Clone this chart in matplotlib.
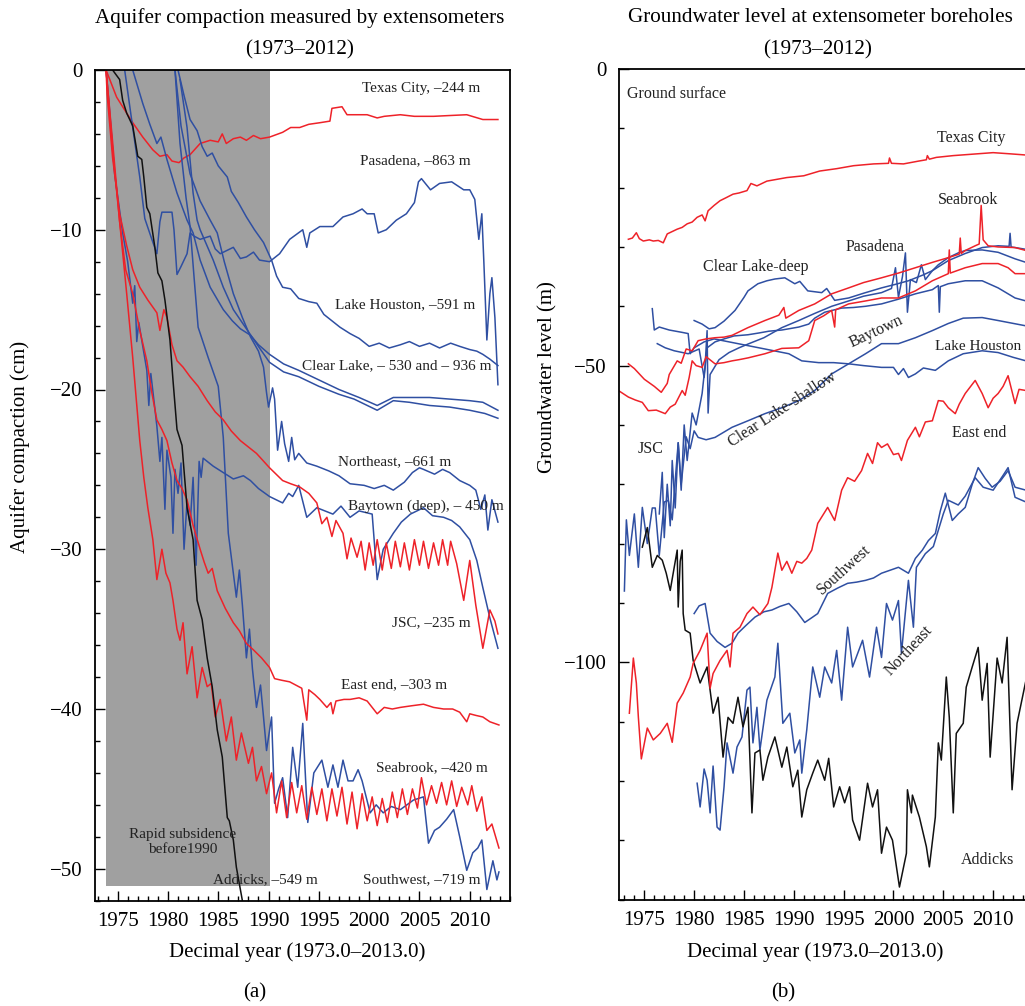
import matplotlib
matplotlib.use("Agg")
import matplotlib.pyplot as plt
from matplotlib.ticker import MultipleLocator

plt.rcParams['font.family'] = ['Liberation Serif', 'DejaVu Serif']
plt.rcParams['axes.unicode_minus'] = True

RED = '#ee2229'
BLUE = '#2f4fa2'
BLACK = '#111111'
SHADE = '#a0a0a0'

# ---------------- (a) aquifer compaction (year, cm) ----------------
texas_city_a = [(1973.85, 0), (1974.9, -1.7), (1975.9, -2.7), (1976.5, -3.3), (1977.5, -4.2), (1978.5, -5.0),
                (1979.2, -5.4), (1979.9, -5.3), (1980.4, -5.7), (1981.1, -5.8), (1981.6, -5.5), (1982.2, -5.3),
                (1983.2, -4.6), (1984.2, -4.4), (1985.0, -4.5), (1985.4, -4.0), (1985.8, -4.6), (1986.5, -4.3),
                (1987.2, -4.2), (1987.8, -4.4), (1988.5, -4.1), (1989.2, -4.3), (1990.1, -4.2), (1991.4, -3.9),
                (1992.2, -3.6), (1993.1, -3.6), (1994.0, -3.4), (1995.1, -3.3), (1996.1, -3.2), (1996.3, -2.4),
                (1997.3, -2.3), (1997.8, -2.8), (1999.8, -2.8), (2000.8, -3.0), (2001.5, -2.9), (2003.1, -2.8),
                (2004.5, -2.9), (2006.4, -2.9), (2008.0, -2.85), (2009.7, -2.8), (2010.5, -2.95), (2011.3, -3.1),
                (2012.8, -3.1)]
pasadena_a = [(1975.7, 0), (1976.5, -3.6), (1977.2, -6.7), (1977.7, -9.3), (1978.4, -10.6), (1978.9, -11.5),
              (1979.2, -9.5), (1979.4, -8.9), (1980.4, -8.9), (1980.6, -10.0), (1980.9, -12.8), (1981.3, -12.3),
              (1981.9, -11.5), (1982.2, -10.2), (1982.6, -10.4), (1983.2, -10.6), (1984.2, -10.4), (1984.7, -11.2),
              (1985.2, -11.5), (1986.5, -11.1), (1987.2, -11.8), (1987.8, -11.7), (1988.5, -11.4), (1989.1, -11.9),
              (1990.1, -12.0), (1991.1, -11.5), (1992.1, -10.6), (1993.4, -10.0), (1993.8, -11.1), (1994.1, -10.2),
              (1995.1, -9.8), (1996.4, -9.8), (1997.4, -9.2), (1998.4, -9.0), (1999.3, -8.7), (1999.8, -9.0),
              (2000.5, -9.0), (2000.9, -10.2), (2001.7, -10.0), (2002.7, -9.4), (2003.7, -9.0), (2004.5, -8.3),
              (2004.9, -7.0), (2005.2, -6.8), (2006.1, -7.5), (2007.0, -7.1), (2008.2, -7.0), (2009.4, -7.5),
              (2010.0, -7.5), (2010.5, -8.1), (2010.9, -10.6), (2011.2, -9.0), (2011.4, -12.0), (2011.7, -16.9),
              (2012.0, -14.0), (2012.2, -13.0), (2012.5, -15.5), (2012.8, -19.7)]
lake_houston_a = [(1981.0, 0), (1981.6, -1.6), (1982.2, -3.1), (1982.9, -3.8), (1983.4, -4.8), (1983.9, -5.4),
                  (1984.4, -5.2), (1985.0, -6.0), (1985.9, -6.7), (1986.3, -7.6), (1987.0, -8.3), (1987.8, -9.2),
                  (1988.6, -10.0), (1989.5, -10.8), (1990.3, -11.9), (1990.8, -12.9), (1991.4, -13.6), (1992.2, -13.7),
                  (1993.0, -14.3), (1994.0, -14.5), (1994.8, -14.6), (1995.5, -15.3), (1996.3, -15.7), (1997.1, -16.1),
                  (1998.1, -16.5), (1999.0, -16.8), (2000.0, -17.3), (2001.0, -17.1), (2002.0, -17.4), (2003.1, -17.2),
                  (2004.0, -17.0), (2005.0, -17.3), (2006.0, -17.1), (2007.0, -17.4), (2008.1, -17.1), (2009.0, -17.3),
                  (2010.0, -17.5), (2010.7, -17.6), (2011.3, -17.8), (2012.0, -18.1), (2012.8, -18.5)]
clear_lake_deep_a = [(1976.5, 0), (1977.5, -2.1), (1978.2, -3.4), (1978.9, -4.6), (1979.3, -4.2), (1979.9, -5.6),
                     (1980.9, -7.7), (1981.9, -9.4), (1982.5, -10.2), (1983.2, -11.9), (1984.2, -13.6),
                     (1985.5, -15.0), (1986.4, -15.7), (1987.2, -16.2), (1988.2, -16.6), (1989.0, -17.2),
                     (1990.1, -17.8), (1991.5, -18.4), (1993.0, -18.8), (1995.0, -19.4), (1997.0, -20.0),
                     (1999.0, -20.5), (2000.8, -21.0), (2002.4, -20.5), (2004.0, -20.5), (2006.0, -20.5),
                     (2008.0, -20.6), (2010.0, -20.7), (2011.3, -20.8), (2012.8, -21.3)]
clear_lake_shallow_a = [(1981.2, -0.6), (1981.9, -3.6), (1982.5, -7.7), (1982.9, -9.4), (1983.2, -10.0),
                        (1984.5, -11.9), (1985.5, -13.6), (1986.5, -15.0), (1987.8, -16.2), (1989.1, -17.4),
                        (1990.1, -18.3), (1991.5, -18.9), (1993.0, -19.2), (1995.0, -19.8), (1997.0, -20.3),
                        (1998.5, -20.6), (2000.8, -21.3), (2002.4, -20.7), (2004.0, -20.8), (2006.0, -21.0),
                        (2008.0, -21.1), (2010.0, -21.3), (2011.5, -21.5), (2012.8, -21.8)]
northeast_a = [(1980.7, 0), (1981.3, -3.5), (1982.2, -6.5), (1983.2, -8.2), (1984.2, -9.4), (1984.9, -10.2),
               (1985.6, -12.0), (1986.5, -14.0), (1987.4, -15.5), (1988.2, -16.7), (1989.0, -17.6), (1989.5, -18.6),
               (1989.8, -20.2), (1990.0, -21.1), (1990.4, -19.9), (1990.6, -20.6), (1990.9, -23.8), (1991.3, -22.0),
               (1991.6, -23.4), (1992.0, -24.5), (1992.3, -23.0), (1992.6, -24.4), (1993.0, -24.0), (1993.8, -24.6),
               (1994.8, -24.8), (1996.0, -25.1), (1997.0, -25.4), (1998.1, -25.9), (1999.5, -26.0), (2000.5, -26.2),
               (2001.5, -26.0), (2002.4, -26.3), (2003.5, -25.8), (2004.3, -25.2), (2005.0, -24.9), (2005.4, -25.0),
               (2006.5, -25.3), (2007.3, -25.0), (2008.0, -25.2), (2009.0, -25.7), (2010.0, -26.0), (2010.6, -26.3),
               (2011.1, -27.5), (2011.5, -26.6), (2011.8, -28.8), (2012.2, -26.9), (2012.8, -28.3)]
southwest_a = [(1980.7, 0), (1981.2, -4.6), (1981.8, -8.0), (1982.2, -9.8), (1982.6, -13.0), (1983.0, -16.1),
               (1984.0, -18.0), (1985.0, -19.8), (1985.5, -23.0), (1986.0, -29.0), (1986.5, -31.5), (1986.8, -33.0),
               (1987.1, -31.3), (1987.4, -33.5), (1987.8, -36.8), (1988.1, -35.0), (1988.4, -37.5), (1988.8, -39.9),
               (1989.2, -38.5), (1989.5, -40.5), (1989.8, -42.6), (1990.3, -40.5), (1990.6, -45.9), (1991.0, -45.0),
               (1991.4, -44.3), (1991.9, -46.8), (1992.4, -42.4), (1992.9, -44.9), (1993.4, -40.9), (1993.9, -47.1),
               (1994.5, -44.0), (1995.3, -43.2), (1995.9, -44.9), (1996.4, -43.5), (1996.9, -44.9), (1997.4, -43.2),
               (1997.9, -44.5), (1998.4, -44.5), (1998.9, -43.8), (1999.3, -44.5), (2000.1, -46.5), (2000.7, -46.0),
               (2001.4, -46.5), (2002.2, -46.1), (2003.1, -46.3), (2004.4, -45.7), (2005.4, -45.5), (2005.9, -48.4),
               (2006.5, -47.6), (2007.0, -47.4), (2007.7, -46.9), (2008.4, -46.3), (2009.0, -48.0), (2009.7, -50.1),
               (2010.3, -49.0), (2010.8, -48.7), (2011.2, -48.2), (2011.7, -51.3), (2012.3, -49.5), (2012.7, -50.7),
               (2012.9, -50.2)]
baytown_a = [(1973.85, 0), (1974.2, -2.5), (1974.7, -6.5), (1975.5, -10.2), (1976.0, -12.0), (1976.5, -14.6),
             (1976.7, -13.5), (1976.9, -17.0), (1977.1, -15.8), (1977.9, -18.8), (1978.1, -21.0), (1978.3, -19.0),
             (1978.9, -22.3), (1979.2, -24.5), (1979.4, -23.0), (1979.7, -27.5), (1979.9, -23.8), (1980.3, -25.5),
             (1980.5, -29.0), (1980.7, -25.0), (1981.0, -26.5), (1981.3, -24.6), (1981.6, -30.0), (1981.9, -27.0),
             (1982.2, -28.5), (1982.5, -25.5), (1982.8, -31.0), (1983.1, -24.5), (1983.3, -25.5), (1983.5, -24.3),
             (1984.5, -24.8), (1985.5, -25.2), (1986.5, -25.6), (1987.5, -25.4), (1988.2, -25.7), (1989.0, -26.2),
             (1990.1, -26.7), (1991.4, -27.1), (1992.0, -26.5), (1992.4, -26.7), (1993.0, -26.0), (1993.8, -28.0),
             (1994.8, -27.4), (1995.6, -27.6), (1996.4, -27.8), (1997.2, -27.3), (1998.1, -28.0), (1999.0, -27.6),
             (2000.3, -27.8), (2000.8, -31.9), (2001.4, -30.0), (2002.4, -29.0), (2003.2, -28.3), (2004.1, -27.8),
             (2005.4, -27.4), (2006.3, -27.9), (2007.4, -28.0), (2008.2, -28.2), (2009.0, -28.6), (2010.0, -29.4),
             (2010.7, -30.7), (2011.3, -32.4), (2012.0, -34.3), (2012.8, -36.2)]
addicks_a = [(1974.5, 0), (1975.2, -0.6), (1975.5, -1.9), (1975.9, -2.7), (1976.5, -3.5), (1977.0, -5.4),
             (1977.4, -5.6), (1977.6, -6.7), (1977.9, -8.6), (1978.2, -9.0), (1978.7, -11.1), (1979.0, -12.7),
             (1979.4, -13.2), (1979.7, -14.4), (1980.2, -16.9), (1980.5, -19.4), (1980.9, -22.5), (1981.4, -23.5),
             (1981.9, -27.4), (1982.5, -29.4), (1982.9, -33.2), (1983.4, -34.4), (1983.9, -36.8), (1984.4, -38.6),
             (1984.9, -41.3), (1985.4, -43.0), (1985.9, -46.8), (1986.1, -47.0), (1986.5, -48.2), (1986.8, -49.9),
             (1987.4, -52.0), (1987.6, -53.0)]
jsc_a = [(1973.85, 0), (1973.95, -1.5), (1974.5, -5.5), (1975.2, -9.0), (1975.9, -11.0), (1976.5, -12.5),
         (1977.2, -13.6), (1978.0, -14.4), (1978.9, -15.2), (1979.2, -16.3), (1979.6, -15.0), (1979.9, -15.5),
         (1980.4, -17.2), (1980.9, -18.2), (1981.5, -18.6), (1982.2, -19.2), (1983.0, -19.8), (1983.9, -20.7),
         (1984.7, -21.4), (1985.5, -21.9), (1986.3, -22.6), (1987.2, -23.2), (1988.0, -23.6), (1988.8, -24.0),
         (1990.1, -24.9), (1991.4, -25.7), (1992.2, -25.9), (1993.1, -26.1), (1994.0, -26.5), (1994.8, -27.1),
         (1995.3, -28.4), (1995.8, -28.0), (1996.3, -29.2), (1996.7, -28.2), (1997.4, -29.0), (1997.8, -30.6),
         (1998.2, -29.3), (1998.8, -30.5), (1999.2, -29.5), (1999.6, -31.3), (2000.0, -29.6), (2000.4, -31.0),
         (2000.8, -29.4), (2001.3, -31.3), (2001.7, -29.6), (2002.2, -31.2), (2002.6, -29.5), (2003.1, -31.1),
         (2003.5, -29.6), (2004.0, -31.3), (2004.5, -29.4), (2005.0, -31.0), (2005.4, -29.5), (2005.9, -31.2),
         (2006.4, -29.6), (2006.9, -31.0), (2007.3, -29.4), (2007.8, -31.0), (2008.1, -29.5), (2008.7, -30.9),
         (2009.4, -33.2), (2010.0, -30.7), (2010.6, -33.5), (2011.3, -36.2), (2012.0, -33.8), (2012.5, -34.5),
         (2012.8, -35.3)]
east_end_a = [(1973.85, 0), (1974.5, -5.0), (1975.2, -9.5), (1975.8, -12.5), (1976.5, -14.0), (1977.2, -16.3),
              (1977.9, -18.2), (1978.4, -20.2), (1978.9, -21.9), (1979.4, -22.5), (1979.9, -23.2), (1980.4, -24.6),
              (1980.9, -25.7), (1981.4, -26.2), (1981.9, -26.9), (1982.5, -28.5), (1983.2, -30.0), (1983.6, -30.8),
              (1984.0, -31.5), (1984.4, -31.2), (1984.9, -32.6), (1985.7, -33.7), (1986.5, -34.6), (1987.1, -35.1),
              (1987.8, -35.9), (1988.5, -36.3), (1989.3, -36.8), (1990.1, -37.4), (1990.6, -38.1), (1991.3, -38.2),
              (1992.1, -38.3), (1993.3, -38.7), (1993.8, -40.7), (1994.0, -38.8), (1994.6, -39.1), (1995.1, -39.4),
              (1995.8, -39.9), (1996.2, -39.6), (1996.4, -40.3), (1996.7, -39.5), (1997.5, -39.4), (1998.1, -39.4),
              (1999.0, -39.3), (1999.8, -39.5), (2000.8, -40.3), (2001.5, -39.9), (2002.3, -40.0), (2003.1, -39.9),
              (2004.2, -39.8), (2005.4, -39.7), (2006.4, -39.9), (2007.4, -40.0), (2008.3, -40.0), (2009.0, -40.2),
              (2009.7, -40.8), (2010.0, -40.3), (2010.6, -40.4), (2011.3, -40.5), (2012.0, -40.8), (2012.9, -41.0)]
seabrook_a = [(1973.85, 0), (1974.5, -4.5), (1975.2, -9.5), (1975.9, -14.0), (1976.5, -18.0), (1977.2, -23.2),
              (1977.6, -25.5), (1978.0, -27.4), (1978.5, -29.4), (1978.9, -31.9), (1979.4, -30.0), (1979.8, -31.5),
              (1980.2, -32.1), (1980.5, -33.2), (1980.9, -35.0), (1981.2, -35.7), (1981.5, -34.6), (1981.9, -37.8),
              (1982.4, -36.1), (1982.9, -39.3), (1983.4, -37.4), (1983.9, -38.6), (1984.3, -38.4), (1984.7, -40.5),
              (1985.2, -39.4), (1985.8, -42.0), (1986.3, -40.5), (1986.8, -43.2), (1987.3, -41.5), (1988.0, -43.4),
              (1988.4, -42.4), (1988.8, -44.5), (1989.3, -43.6), (1989.8, -45.3), (1990.3, -44.0), (1990.8, -46.5),
              (1991.3, -44.5), (1991.8, -46.8), (1992.3, -44.6), (1992.8, -46.5), (1993.3, -44.8), (1993.8, -46.9),
              (1994.3, -44.9), (1994.8, -46.6), (1995.3, -45.0), (1995.8, -47.0), (1996.3, -45.0), (1996.8, -46.7),
              (1997.3, -44.9), (1997.8, -47.2), (1998.3, -45.2), (1998.8, -47.5), (1999.3, -45.3), (1999.8, -47.0),
              (2000.3, -45.5), (2000.8, -47.3), (2001.3, -45.6), (2001.8, -47.1), (2002.3, -45.2), (2002.8, -46.8),
              (2003.3, -45.0), (2003.8, -46.6), (2004.3, -45.0), (2004.8, -46.2), (2005.2, -44.3), (2005.7, -46.0),
              (2006.2, -44.8), (2006.7, -45.9), (2007.2, -44.6), (2007.7, -46.0), (2008.2, -44.5), (2008.7, -46.1),
              (2009.2, -44.9), (2009.8, -46.0), (2010.2, -44.8), (2010.7, -46.4), (2011.2, -45.5), (2011.7, -47.6),
              (2012.2, -47.2), (2012.9, -48.7)]

series_a = [(texas_city_a, RED), (pasadena_a, BLUE), (lake_houston_a, BLUE), (clear_lake_deep_a, BLUE),
            (clear_lake_shallow_a, BLUE), (northeast_a, BLUE), (southwest_a, BLUE), (baytown_a, BLUE),
            (jsc_a, RED), (east_end_a, RED), (seabrook_a, RED), (addicks_a, BLACK)]

labels_a = [("Texas City, \u2013244 m", 2005.15, -1.13), ("Pasadena, \u2013863 m", 2004.6, -5.7),
            ("Lake Houston, \u2013591 m", 2003.6, -14.7), ("Clear Lake, \u2013 530 and \u2013 936 m", 2002.7, -18.5),
            ("Northeast, \u2013661 m", 2002.5, -24.5), ("Baytown (deep), \u2013 450 m", 2005.6, -27.3),
            ("JSC, \u2013235 m", 2006.2, -34.6), ("East end, \u2013303 m", 2002.5, -38.5),
            ("Seabrook, \u2013420 m", 2006.2, -43.7), ("Southwest, \u2013719 m", 2005.2, -50.7),
            ("Addicks, \u2013549 m", 1989.7, -50.7), ("Rapid subsidence\nbefore1990", 1981.5, -48.3)]
rapid_years = [1973.85, 1990.1]
rapid_depth = -51.05

# ---------------- (b) groundwater level (year, m) ----------------
texas_city_b = [(1973.4, -28.7), (1973.8, -28.5), (1974.2, -27.6), (1974.5, -28.6), (1974.9, -29.0), (1975.5, -28.8),
                (1975.9, -29.0), (1976.4, -28.9), (1976.9, -29.3), (1977.3, -27.8), (1978.3, -27.0), (1978.8, -26.7),
                (1979.3, -26.1), (1979.8, -25.8), (1980.3, -25.0), (1980.8, -24.6), (1981.1, -25.6), (1981.4, -23.9),
                (1982.0, -23.0), (1982.6, -22.2), (1983.2, -21.7), (1983.9, -21.1), (1984.5, -20.9), (1985.3, -20.5),
                (1985.7, -19.3), (1986.3, -19.7), (1987.3, -18.9), (1988.3, -18.6), (1989.3, -18.3), (1991.0, -18.0),
                (1992.6, -17.2), (1994.3, -16.8), (1996.0, -16.3), (1998.0, -16.0), (1999.5, -15.9), (1999.6, -15.0),
                (1999.8, -15.9), (2001.0, -16.0), (2002.6, -15.5), (2003.3, -15.3), (2003.4, -14.6), (2003.6, -15.2),
                (2004.3, -14.9), (2006.0, -14.6), (2007.6, -14.4), (2010.0, -14.1), (2011.7, -14.3), (2013.3, -14.5)]
seabrook_b = [(1973.4, -49.7), (1974.0, -50.5), (1975.0, -52.3), (1976.0, -53.5), (1976.7, -54.5), (1977.3, -53.0),
              (1977.5, -51.5), (1978.3, -49.2), (1978.7, -49.6), (1979.2, -47.2), (1979.8, -47.5), (1980.4, -45.8),
              (1981.2, -45.5), (1982.1, -45.3), (1983.0, -45.2), (1983.8, -44.9), (1985.4, -43.6), (1987.1, -42.4),
              (1988.5, -41.5), (1989.0, -40.2), (1989.2, -42.0), (1990.5, -40.7), (1992.1, -39.6), (1993.8, -37.9),
              (1995.5, -36.9), (1997.0, -36.0), (1998.8, -35.2), (2000.5, -34.4), (2002.2, -33.5), (2003.9, -32.6),
              (2005.5, -31.8), (2006.6, -31.2), (2006.7, -28.5), (2006.8, -31.1), (2007.2, -30.6), (2008.2, -29.8),
              (2008.6, -29.5), (2008.8, -23.0), (2009.0, -28.8), (2009.5, -29.8), (2010.5, -30.0), (2012.2, -30.1),
              (2013.3, -30.6)]
jsc_b = [(1972.4, -54.2), (1973.4, -55.3), (1974.1, -55.8), (1974.8, -56.2), (1975.4, -57.6), (1976.2, -57.5),
         (1977.1, -58.1), (1977.6, -57.0), (1978.1, -56.5), (1978.8, -54.2), (1979.1, -55.0), (1979.5, -52.0),
         (1979.8, -49.2), (1980.2, -50.0), (1980.8, -50.3), (1981.2, -48.5), (1982.1, -49.7), (1983.0, -49.5),
         (1983.8, -49.2), (1984.5, -49.0), (1985.4, -48.7), (1987.1, -48.0), (1988.8, -47.1), (1990.5, -47.0),
         (1991.5, -45.8), (1992.1, -42.4), (1993.0, -41.6), (1993.8, -40.7), (1994.1, -43.5), (1994.2, -40.6),
         (1995.5, -39.6), (1997.2, -39.1), (1998.8, -38.6), (2000.5, -38.6), (2002.2, -37.4), (2003.9, -35.7),
         (2005.5, -34.5), (2005.6, -30.5), (2005.7, -34.4), (2007.2, -33.5), (2008.9, -32.8), (2010.5, -32.8),
         (2011.5, -33.5), (2012.2, -34.5), (2013.3, -34.5)]
east_end_b = [(1973.5, -108.6), (1973.9, -99.3), (1974.2, -103.5), (1974.4, -109.2), (1974.7, -116.3),
              (1975.3, -111.1), (1975.9, -113.1), (1976.6, -112.0), (1977.3, -110.3), (1977.8, -113.5),
              (1978.3, -106.9), (1978.9, -105.2), (1979.6, -102.5), (1979.9, -100.2), (1980.6, -98.0),
              (1981.3, -95.1), (1981.6, -104.4), (1981.9, -101.9), (1982.6, -99.7), (1983.3, -98.0),
              (1983.6, -100.8), (1983.9, -95.1), (1984.6, -94.1), (1985.3, -91.8), (1985.9, -90.7),
              (1986.6, -92.0), (1987.4, -90.1), (1987.8, -87.4), (1988.4, -81.6), (1988.8, -84.5),
              (1989.3, -83.0), (1989.8, -85.0), (1990.3, -83.0), (1990.8, -83.3), (1991.3, -82.5),
              (1991.8, -81.1), (1992.4, -76.6), (1993.4, -73.9), (1994.1, -76.1), (1994.8, -71.0),
              (1995.4, -68.9), (1996.1, -69.5), (1996.8, -67.7), (1997.4, -64.8), (1997.9, -66.5),
              (1998.4, -63.0), (1998.8, -63.8), (1999.4, -63.2), (2000.0, -65.0), (2000.5, -64.8),
              (2000.8, -66.0), (2001.4, -62.6), (2002.2, -60.4), (2002.6, -62.0), (2003.2, -59.5),
              (2003.9, -59.3), (2004.5, -55.9), (2005.0, -56.0), (2005.5, -57.1), (2006.2, -58.1),
              (2006.6, -56.5), (2007.2, -54.7), (2008.2, -52.5), (2008.9, -54.7), (2009.5, -57.1),
              (2010.0, -55.5), (2010.5, -54.7), (2011.0, -53.5), (2011.5, -51.7), (2012.2, -56.4),
              (2012.6, -54.0), (2013.3, -54.2)]
addicks_b = [(1974.8, -80.6), (1975.3, -77.3), (1975.8, -84.0), (1976.3, -82.0), (1976.8, -82.8), (1977.2, -85.0),
             (1977.6, -87.9), (1978.0, -84.0), (1978.3, -81.1), (1978.4, -90.7), (1978.6, -83.0), (1978.8, -81.1),
             (1978.9, -91.8), (1979.1, -94.6), (1979.6, -95.1), (1979.9, -99.7), (1980.6, -103.5), (1981.3, -100.8),
             (1981.9, -108.6), (1982.4, -105.9), (1982.9, -116.0), (1983.4, -109.3), (1983.9, -110.3),
             (1984.4, -105.9), (1984.9, -110.9), (1985.4, -107.6), (1985.8, -125.4), (1986.1, -115.3),
             (1986.6, -114.8), (1986.9, -119.9), (1987.4, -116.0), (1988.1, -112.6), (1988.8, -117.7),
             (1989.3, -114.3), (1989.9, -121.0), (1990.4, -118.2), (1990.8, -126.1), (1991.3, -121.5),
             (1991.9, -118.7), (1992.4, -116.5), (1993.1, -119.9), (1993.5, -116.2), (1994.0, -124.4),
             (1994.6, -121.0), (1995.1, -123.7), (1995.6, -121.0), (1995.9, -126.6), (1996.6, -130.0),
             (1997.4, -120.4), (1997.9, -124.4), (1998.4, -121.5), (1998.8, -132.2), (1999.3, -127.8),
             (1999.9, -130.0), (2000.6, -137.9), (2001.3, -132.2), (2001.4, -121.5), (2001.8, -125.4),
             (2001.9, -122.4), (2002.6, -126.1), (2003.3, -131.1), (2003.6, -134.5), (2004.2, -126.1),
             (2004.5, -113.6), (2004.8, -116.5), (2005.3, -102.5), (2005.6, -109.3), (2006.0, -125.4),
             (2006.3, -112.0), (2007.0, -110.3), (2007.3, -104.2), (2007.9, -100.8), (2008.5, -97.5),
             (2008.9, -106.4), (2009.4, -100.2), (2009.7, -116.0), (2010.4, -99.3), (2010.9, -103.5),
             (2011.4, -95.8), (2011.9, -121.5), (2012.4, -110.3), (2013.3, -103.0)]
southwest_b = [(1980.0, -91.8), (1980.5, -90.5), (1981.1, -90.1), (1981.6, -95.1), (1982.3, -96.5), (1983.1, -97.5),
               (1983.8, -96.8), (1984.4, -95.1), (1985.2, -93.8), (1986.1, -92.4), (1987.0, -91.5), (1987.8, -91.2),
               (1988.6, -90.6), (1989.5, -90.1), (1990.3, -91.5), (1991.1, -93.3), (1991.8, -92.5), (1992.4, -91.8),
               (1993.4, -88.4), (1994.4, -87.5), (1995.4, -86.7), (1996.3, -86.5), (1997.2, -86.2), (1998.0, -85.8),
               (1998.8, -85.0), (2000.5, -84.0), (2001.5, -85.0), (2002.2, -82.5), (2002.9, -81.1), (2003.5, -79.5),
               (2004.2, -78.3), (2004.7, -74.5), (2005.2, -71.5), (2005.9, -76.1), (2006.5, -75.0), (2007.2, -73.9),
               (2007.9, -70.0), (2008.5, -67.2), (2009.2, -69.0), (2009.9, -70.5), (2010.7, -69.5), (2011.5, -67.7),
               (2012.2, -70.5), (2013.3, -71.0)]
northeast_b = [(1980.3, -120.4), (1980.6, -124.4), (1981.0, -118.0), (1981.3, -119.9), (1981.6, -125.4),
               (1981.9, -117.5), (1982.3, -127.8), (1982.6, -128.3), (1983.0, -121.0), (1983.3, -113.6),
               (1983.9, -118.7), (1984.3, -114.3), (1984.8, -112.6), (1985.3, -104.7), (1985.6, -104.2),
               (1985.9, -113.6), (1986.3, -107.6), (1986.6, -114.8), (1987.3, -106.4), (1988.1, -102.5),
               (1988.4, -96.8), (1988.9, -110.3), (1989.6, -108.6), (1990.1, -115.3), (1990.6, -113.1),
               (1990.8, -118.7), (1991.3, -111.4), (1991.9, -100.8), (1992.6, -105.9), (1993.1, -100.8),
               (1993.8, -103.5), (1994.3, -98.0), (1994.8, -106.4), (1995.4, -94.1), (1995.9, -100.8),
               (1996.9, -96.3), (1997.6, -102.5), (1998.3, -94.1), (1998.8, -99.2), (1999.3, -90.1),
               (1999.9, -92.9), (2000.5, -89.6), (2000.8, -98.5), (2001.5, -86.2), (2002.0, -94.1),
               (2002.3, -84.0), (2003.2, -81.7), (2004.0, -80.5), (2005.0, -75.0), (2005.5, -72.7),
               (2006.5, -73.5), (2007.2, -72.0), (2008.2, -68.9), (2009.0, -70.5), (2010.0, -71.0),
               (2011.0, -68.5), (2011.5, -67.2), (2012.2, -72.2), (2013.3, -73.0)]
clear_lake_deep_b = [(1980.0, -42.4), (1980.8, -43.0), (1981.5, -43.8), (1982.1, -43.6), (1983.0, -42.5),
                     (1984.1, -40.7), (1985.0, -38.5), (1985.4, -37.4), (1986.4, -36.2), (1987.3, -35.7),
                     (1988.1, -35.4), (1989.1, -35.2), (1990.1, -36.2), (1990.6, -35.8), (1991.4, -37.4),
                     (1992.8, -37.7), (1993.3, -37.0), (1994.1, -39.0), (1995.5, -38.6), (1997.0, -37.8),
                     (1998.8, -36.9), (2000.2, -36.3), (2001.5, -35.7), (2003.0, -34.7), (2003.9, -34.0),
                     (2005.5, -32.3), (2007.2, -31.1), (2008.9, -30.1), (2010.5, -29.8), (2011.6, -29.9),
                     (2011.7, -27.7), (2011.8, -30.0), (2012.2, -30.1), (2013.3, -30.4)]
pasadena_b = [(1976.5, -75.0), (1976.8, -68.0), (1977.0, -79.0), (1977.3, -70.0), (1977.6, -77.0), (1977.8, -66.0),
              (1978.1, -74.0), (1978.4, -63.0), (1978.7, -71.0), (1979.0, -60.0), (1979.3, -66.0), (1979.8, -58.0),
              (1980.2, -60.0), (1980.8, -54.7), (1981.1, -50.0), (1981.3, -44.1), (1981.4, -58.0), (1981.6, -51.5),
              (1982.5, -49.0), (1983.5, -47.8), (1984.5, -47.0), (1985.5, -46.3), (1987.0, -45.3), (1988.8, -43.6),
              (1990.5, -42.4), (1992.1, -41.2), (1993.8, -40.0), (1995.5, -39.1), (1997.0, -38.3), (1998.8, -37.7),
              (1999.8, -37.0), (2000.2, -33.5), (2000.5, -38.5), (2000.9, -35.0), (2001.2, -31.0), (2001.4, -41.0),
              (2001.7, -35.5), (2002.3, -36.0), (2002.8, -33.0), (2003.2, -35.5), (2003.9, -34.0), (2004.5, -33.0),
              (2005.5, -31.8), (2006.5, -31.0), (2007.2, -30.6), (2008.9, -30.5), (2010.5, -30.9), (2012.2, -32.0),
              (2013.3, -32.6)]
clear_lake_shallow_b = [(1973.0, -88.0), (1973.2, -76.0), (1973.5, -82.0), (1974.0, -75.0), (1974.4, -84.0),
                        (1974.8, -73.9), (1975.3, -80.0), (1975.8, -74.0), (1976.1, -74.0), (1976.5, -82.0),
                        (1977.0, -73.0), (1977.4, -72.7), (1977.8, -76.0), (1978.1, -69.4), (1978.4, -63.0),
                        (1978.7, -70.0), (1979.2, -62.0), (1979.6, -64.0), (1980.0, -61.0), (1980.4, -62.1),
                        (1981.2, -62.5), (1982.1, -62.1), (1983.8, -60.4), (1985.4, -59.3), (1987.1, -58.1),
                        (1988.8, -57.1), (1990.5, -55.9), (1992.1, -54.2), (1993.8, -51.4), (1995.5, -49.7),
                        (1997.2, -48.0), (1998.8, -46.3), (2000.5, -46.3), (2002.2, -45.3), (2003.9, -44.1),
                        (2005.5, -42.9), (2007.0, -42.0), (2008.9, -41.9), (2010.5, -42.4), (2013.3, -43.3)]
lake_houston_b = [(1975.8, -40.4), (1976.0, -44.0), (1976.5, -43.5), (1977.5, -44.0), (1978.8, -44.4),
                  (1979.4, -44.6), (1979.6, -48.0), (1980.0, -47.0), (1981.0, -46.0), (1982.0, -45.5),
                  (1983.5, -46.0), (1985.0, -46.5), (1986.5, -47.0), (1988.0, -47.5), (1989.5, -48.0),
                  (1990.8, -49.2), (1992.5, -49.5), (1994.0, -49.5), (1995.5, -49.7), (1997.0, -50.0),
                  (1998.8, -50.3), (2000.0, -50.3), (2000.5, -51.5), (2001.0, -50.5), (2001.5, -52.0),
                  (2002.2, -51.4), (2003.0, -50.4), (2004.2, -50.8), (2005.5, -49.2), (2007.0, -48.0),
                  (2008.9, -47.5), (2010.5, -47.8), (2012.0, -48.6), (2013.3, -49.2)]
baytown_b = [(1976.3, -46.3), (1977.1, -47.0), (1978.0, -47.5), (1979.4, -48.0), (1980.5, -47.2), (1981.0, -52.0),
             (1981.3, -47.0), (1982.1, -46.0), (1983.0, -45.5), (1984.0, -45.0), (1985.4, -44.8), (1986.5, -44.5),
             (1987.5, -44.2), (1988.8, -44.0), (1990.5, -43.5), (1991.5, -43.0), (1992.1, -42.0), (1993.1, -41.0),
             (1994.8, -40.3), (1996.0, -40.2), (1997.2, -40.0), (1998.8, -39.6), (2000.5, -38.8), (2002.2, -37.9),
             (2003.9, -37.2), (2004.5, -36.5), (2004.6, -41.0), (2004.7, -36.7), (2005.5, -36.2), (2007.2, -35.7),
             (2008.9, -35.7), (2010.5, -36.9), (2012.2, -38.6), (2013.3, -39.1)]

series_b = [(texas_city_b, RED), (clear_lake_shallow_b, BLUE), (lake_houston_b, BLUE), (baytown_b, BLUE),
            (clear_lake_deep_b, BLUE), (pasadena_b, BLUE), (southwest_b, BLUE), (northeast_b, BLUE),
            (addicks_b, BLACK), (east_end_b, RED), (jsc_b, RED), (seabrook_b, RED)]

labels_b = [("Texas City", 2007.8, -11.6, 0), ("Seabrook", 2007.5, -22.0, 0), ("Pasadena", 1998.2, -30.0, 0),
            ("Clear Lake-deep", 1986.2, -33.3, 0), ("Baytown", 1998.3, -44.3, 25),
            ("Clear Lake-shallow", 1988.9, -57.4, 33), ("JSC", 1975.6, -64.0, 0), ("East end", 2008.6, -61.4, 0),
            ("Southwest", 1995.0, -84.5, 42), ("Northeast", 2001.5, -98.0, 47), ("Addicks", 2009.4, -133.3, 0)]

W, H = 1025, 1006
fig = plt.figure(figsize=(W / 100, H / 100), dpi=100)

ax1 = fig.add_axes([95 / W, 1 - 900.7 / H, 415 / W, 830.7 / H])
ax2 = fig.add_axes([619 / W, 1 - 899.5 / H, 414 / W, 830.5 / H])


def style(ax):
    ax.tick_params(which='both', direction='in', top=False, right=False, labelsize=15, width=1.0)
    ax.tick_params(which='major', length=7)
    ax.tick_params(which='minor', length=3.5)
    ax.tick_params(axis='y', pad=9)
    ax.tick_params(axis='x', pad=8)
    for s in ax.spines.values():
        s.set_linewidth(1.3)


# panel (a)
ax1.fill_between(rapid_years, rapid_depth, 0, color=SHADE, lw=0, zorder=0)
for data, col in series_a:
    yrs = [p[0] for p in data]
    vals = [p[1] for p in data]
    ax1.plot(yrs, vals, color=col, lw=1.1, zorder=2)
ax1.set_xlim(1972.75, 2014.0)
ax1.set_ylim(-52.0, 0)
ax1.xaxis.set_major_locator(MultipleLocator(5))
ax1.xaxis.set_minor_locator(MultipleLocator(1))
ax1.yaxis.set_major_locator(MultipleLocator(10))
ax1.yaxis.set_minor_locator(MultipleLocator(2))
style(ax1)
for txt, x, y in labels_a:
    ax1.text(x, y, txt, ha='center', va='center', fontsize=11, color='#222222', zorder=5)

# panel (b)
for data, col in series_b:
    yrs = [p[0] for p in data]
    vals = [p[1] for p in data]
    ax2.plot(yrs, vals, color=col, lw=1.1)
ax2.set_xlim(1972.46, 2014.0)
ax2.set_ylim(-140, 0)
ax2.xaxis.set_major_locator(MultipleLocator(5))
ax2.xaxis.set_minor_locator(MultipleLocator(1))
ax2.yaxis.set_major_locator(MultipleLocator(50))
ax2.yaxis.set_minor_locator(MultipleLocator(10))
style(ax2)
ax2.set_xticks([1975, 1980, 1985, 1990, 1995, 2000, 2005, 2010])
ax2.text(1973.27, -4.2, "Ground surface", ha='left', va='center', fontsize=11.5, color='#222222')
ax2.text(2004.2, -46.8, "Lake Houston", ha='left', va='center', fontsize=11, color='#222222')
for txt, x, y, rot in labels_b:
    ax2.text(x, y, txt, ha='center', va='center', fontsize=11.5, rotation=rot, color='#222222',
             rotation_mode='anchor')

# titles, axis labels, panel letters
fig.text(300 / W, 1 - 18 / H, "Aquifer compaction measured by extensometers", ha='center', va='center', fontsize=15.2)
fig.text(300 / W, 1 - 50 / H, "(1973\u20132012)", ha='center', va='center', fontsize=15.2)
fig.text(820 / W, 1 - 18 / H, "Groundwater level at extensometer boreholes", ha='center', va='center', fontsize=15.2)
fig.text(818 / W, 1 - 50 / H, "(1973\u20132012)", ha='center', va='center', fontsize=15.2)
fig.text(20 / W, 1 - 447 / H, "Aquifer compaction (cm)", rotation=90, ha='center', va='center', fontsize=15)
fig.text(548 / W, 1 - 377 / H, "Groundwater level (m)", rotation=90, ha='center', va='center', fontsize=15)
fig.text(297 / W, 1 - 952 / H, "Decimal year (1973.0\u20132013.0)", ha='center', va='center', fontsize=15)
fig.text(815 / W, 1 - 952 / H, "Decimal year (1973.0\u20132013.0)", ha='center', va='center', fontsize=15)
fig.text(255 / W, 1 - 993 / H, "(a)", ha='center', va='center', fontsize=15)
fig.text(783 / W, 1 - 993 / H, "(b)", ha='center', va='center', fontsize=15)

fig.savefig("out.png", dpi=100)
